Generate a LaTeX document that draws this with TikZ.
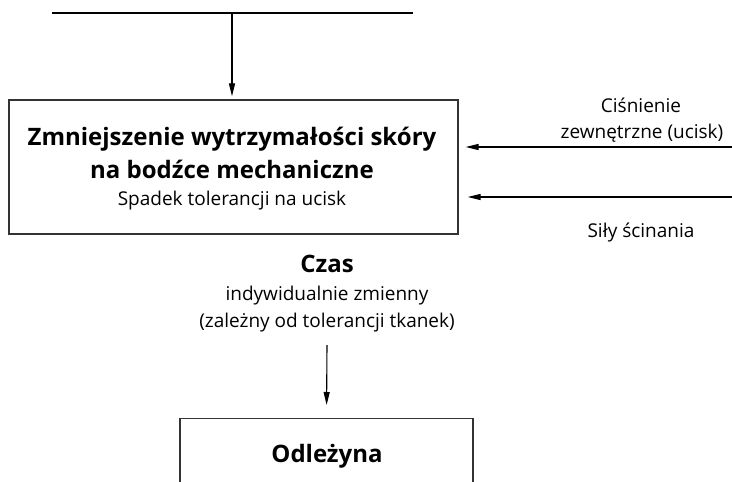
\documentclass[tikz,border=0pt]{standalone}
\usepackage{fontspec}
\setmainfont{Open Sans}
\usetikzlibrary{arrows.meta}
\tikzset{
  conn/.style={line width=1.1pt, -{Triangle[length=13pt,width=6pt]}},
  plainline/.style={line width=1.1pt},
  boxnode/.style={draw=black!80, line width=1.3pt, rectangle, inner sep=0pt},
  txt/.style={anchor=base, inner sep=0pt, font=\fontsize{19}{26}\selectfont},
  btxt/.style={anchor=base, inner sep=0pt, font=\fontsize{24}{31}\selectfont\bfseries},
}
\begin{document}
\begin{tikzpicture}[x=1pt,y=-1pt]
\useasboundingbox (0,0) rectangle (732,482);
\clip (0,0) rectangle (732,482);
% top line
\coordinate (tl) at (52,13);
\coordinate (tr) at (413,13);
\coordinate (tm) at (232,13);
\draw[plainline] (tl) -- (tr);
% box 1
\node[boxnode, minimum width=449pt, minimum height=134pt] (b1) at (233.5,167) {};
\node[btxt] (b1a) at (232,145) {Zmniejszenie wytrzymałości skóry};
\node[btxt] (b1b) at (232,178) {na bodźce mechaniczne};
\node[txt] (b1c) at (232,205) {Spadek tolerancji na ucisk};
\draw[conn] (tm) -- (b1.north -| tm) [shorten >=3pt];
% right inputs
\coordinate (p1) at (732,147);
\coordinate (p2) at (732,197);
\draw[conn, shorten >=7pt] (p1) -- (p1 -| b1.east);
\draw[conn, shorten >=9pt] (p2) -- (p2 -| b1.east);
\node[txt] (lp1) at (641,112) {Ciśnienie};
\node[txt] (lp2) at (642,138) {zewnętrzne (ucisk)};
\node[txt] (ls) at (641,237) {Siły ścinania};
% time
\node[btxt] (czas) at (327,272) {Czas};
\node[txt] (cz2) at (327,300) {indywidualnie zmienny};
\node[txt] (cz3) at (327,327) {(zależny od tolerancji tkanek)};
\coordinate (a3s) at (327,345);
% box 2
\node[boxnode, minimum width=293pt, minimum height=120pt, anchor=north] (b2) at (326.5,418) {};
\node[btxt] (b2t) at (327,462) {Odleżyna};
\draw[conn, shorten >=13pt] (a3s) -- (b2.north);
\end{tikzpicture}
\end{document}
